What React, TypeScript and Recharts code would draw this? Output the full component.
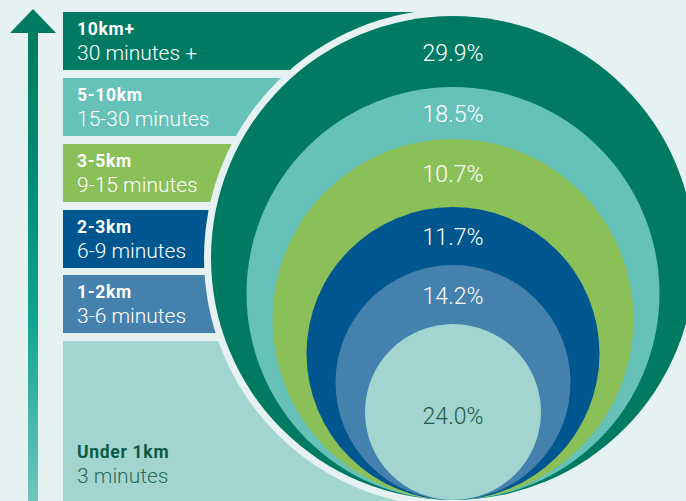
import React from "react";
import { ReferenceArea, Scatter, ScatterChart, XAxis, YAxis } from "recharts";

// trip length bands, longest first (outer circle -> inner circle)
const distances = ["10km+", "5-10km", "3-5km", "2-3km", "1-2km", "Under 1km"];
const durations = ["30 minutes +", "15-30 minutes", "9-15 minutes", "6-9 minutes", "3-6 minutes", "3 minutes"];
const shares = [29.9, 18.5, 10.7, 11.7, 14.2, 24.0];
const palette = ["#007a63", "#66c1b8", "#8bbf57", "#00568e", "#4581ad", "#a2d5cf"];

// layout (axis units == px of the 686x501 canvas)
const W = 686;
const H = 501;
const BG = "#e6f2f2";
const CX = 453; // shared centre line of the circles
const BASE = 500; // circles all touch here
const RING = 7; // gap ring around the outer circle
const radii = [242, 206.5, 180.5, 146.5, 117.5, 88];
const bandTops = [12, 78, 144, 210, 275, 341];
const bandBottoms = [70, 136, 202, 268, 333, 501];
const BAND_X = 63;
const FONT = "Roboto, 'Open Sans', sans-serif";

const outerCy = BASE - radii[0];
const outerR = radii[0] + RING;

const circles = radii.map((r, i) => ({ x: CX, y: BASE - r, r, fill: palette[i], ring: i === 0 }));

const pctLabels = shares.map((s, i) => {
  const top = BASE - 2 * radii[i];
  const last = i === radii.length - 1;
  const next = last ? BASE : BASE - 2 * radii[i + 1];
  return {
    x: CX,
    y: (top + next) / 2 + (last ? 4 : 1),
    text: s.toFixed(1) + "%",
    color: last ? "#1a5c48" : "#ffffff",
  };
});

const bands = distances.map((d, i) => {
  const top = bandTops[i];
  const bottom = bandBottoms[i];
  // stop the bar where the ring around the outer circle starts
  const end = top < outerCy ? CX - Math.sqrt(outerR * outerR - (outerCy - top) ** 2) : CX;
  return { top, bottom, end, fill: palette[i], distance: d, duration: durations[i], tall: bottom - top > 100 };
});

const bandText = bands.map((b, i) => ({
  x: BAND_X + 14,
  y: b.tall ? b.bottom - 43 : b.top + 23,
  distance: b.distance,
  duration: b.duration,
  dark: i === bands.length - 1,
}));

const arrowHead = [{ x: 33, y: 21 }];

const CircleShape = (p: any) => {
  const { cx, cy, payload } = p;
  return (
    <g>
      {payload.ring && <circle cx={cx} cy={cy} r={payload.r + RING} fill={BG} />}
      <circle cx={cx} cy={cy} r={payload.r} fill={payload.fill} />
    </g>
  );
};

const PctShape = (p: any) => (
  <text x={p.cx} y={p.cy + 8} textAnchor="middle" fill={p.payload.color} fontFamily={FONT} fontSize={23} fontWeight={300}>
    {p.payload.text}
  </text>
);

const BandTextShape = (p: any) => {
  const { cx, cy, payload } = p;
  return (
    <g fontFamily={FONT}>
      <text x={cx} y={cy} fill={payload.dark ? "#0c5a43" : "#ffffff"} fontSize={17.5} fontWeight={700} letterSpacing={0.7}>
        {payload.distance}
      </text>
      <text x={cx} y={cy + 25} fill={payload.dark ? "#2b6b5a" : "#ffffff"} fontSize={21} fontWeight={300}>
        {payload.duration}
      </text>
    </g>
  );
};

const ArrowHeadShape = (p: any) => {
  const { cx, cy } = p;
  return <path d={`M${cx} ${cy - 12} L${cx + 23} ${cy + 12} L${cx - 23} ${cy + 12} Z`} fill="#007a63" />;
};

export default function App() {
  return (
    <div style={{ position: "absolute", left: 0, top: 0, width: W, height: H, background: BG }}>
      <ScatterChart width={W} height={H} margin={{ top: 0, right: 0, bottom: 0, left: 0 }}>
        <defs>
          <linearGradient id="arrowFade" x1="0" y1="0" x2="0" y2="1">
            <stop offset="0%" stopColor="#007a63" />
            <stop offset="30%" stopColor="#008a72" />
            <stop offset="62%" stopColor="#10a592" />
            <stop offset="100%" stopColor="#6ec5bb" />
          </linearGradient>
        </defs>
        <XAxis type="number" dataKey="x" domain={[0, W]} scale="linear" allowDataOverflow hide />
        <YAxis type="number" dataKey="y" domain={[0, H]} scale="linear" allowDataOverflow reversed hide />

        <ReferenceArea x1={28} x2={38} y1={30} y2={H} fill="url(#arrowFade)" fillOpacity={1} stroke="none" />
        {bands.map((b) => (
          <ReferenceArea
            key={b.distance}
            x1={BAND_X}
            x2={b.end}
            y1={b.top}
            y2={b.bottom}
            fill={b.fill}
            fillOpacity={1}
            stroke="none"
          />
        ))}

        <Scatter data={arrowHead} shape={ArrowHeadShape} isAnimationActive={false} />
        <Scatter data={circles} shape={CircleShape} isAnimationActive={false} />
        <Scatter data={pctLabels} shape={PctShape} isAnimationActive={false} />
        <Scatter data={bandText} shape={BandTextShape} isAnimationActive={false} />
      </ScatterChart>
    </div>
  );
}
